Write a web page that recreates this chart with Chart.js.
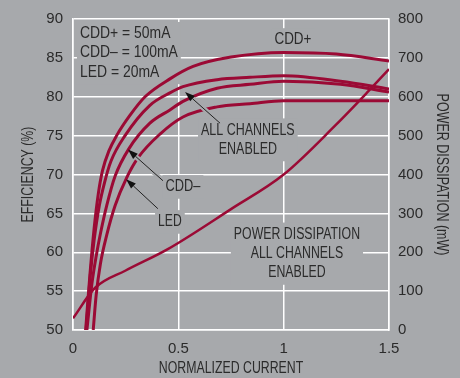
<!DOCTYPE html>
<html>
<head>
<meta charset="utf-8">
<script src="https://cdn.jsdelivr.net/npm/chart.js@4"></script>
<style>
  html,body{margin:0;padding:0;background:#a7a9ac;}
  #wrap{width:460px;height:378px;}
</style>
</head>
<body>
<div id="wrap"><canvas id="c" width="460" height="378"></canvas></div>
<script>
// values: [normalized current, efficiency %] / [current, mW]
const cddPlus = [[0.06,50],[0.08,57],[0.1,63],[0.12,67.5],[0.14,70.5],[0.17,73],[0.207,75],[0.27,77.6],[0.342,80],[0.46,82.3],[0.57,83.9],[0.75,85.1],[1.0,85.7],[1.25,85.5],[1.5,84.6]];
const allChannels = [[0.062,50],[0.082,57],[0.1,61.5],[0.125,66],[0.15,69],[0.18,71.7],[0.247,75],[0.365,78.9],[0.46,80.5],[0.522,81.3],[0.684,82.2],[0.84,82.5],[1.0,82.7],[1.27,82.0],[1.5,81.0]];
const cddMinus = [[0.066,50],[0.09,56],[0.11,59.5],[0.131,62.5],[0.16,66],[0.2,69.8],[0.265,73.3],[0.365,76.6],[0.46,78.3],[0.522,79.4],[0.684,81.1],[0.84,81.6],[1.0,82.0],[1.27,81.6],[1.5,80.6]];
const led = [[0.096,50],[0.11,54.5],[0.13,58.5],[0.16,62.2],[0.2,66],[0.255,69.6],[0.31,72.2],[0.413,75.2],[0.522,77.4],[0.684,78.7],[0.84,79.1],[1.0,79.5],[1.27,79.5],[1.5,79.5]];
const powerDiss = [[0,30],[0.104,108],[0.25,153],[0.45,208],[0.75,311],[1.0,400],[1.25,529],[1.4,613],[1.5,671]];

const xTicks = [0, 0.5, 1, 1.5];
const effRange = [50, 90];
const powRange = [0, 800];

const condLabel = ["CDD+ = 50mA", "CDD\u2013 = 100mA", "LED = 20mA"];
const txtCddPlus = ["CDD+"];
const txtAllCh = ["ALL CHANNELS", "ENABLED"];
const txtCddMinus = ["CDD\u2013"];
const txtLed = ["LED"];
const txtPower = ["POWER DISSIPATION", "ALL CHANNELS", "ENABLED"];

const BG = "#a7a9ac";
const RED = "#9b0a35";
const INK = "#2b2b2b";
const FONT = "'Liberation Sans', Arial, sans-serif";

const pts = (arr)=> arr.map(p=>({x:p[0], y:p[1]}));

// annotations placed in data coordinates (x, efficiency); sx = horizontal squeeze
const notes = [
  {lines: condLabel,   x:0.033, y:88.1, align:"left",   sx:0.87},
  {lines: txtCddPlus,  x:1.044, y:87.3, align:"center", sx:0.84},
  {lines: txtAllCh,    x:0.83,  y:75.7, align:"center", sx:0.78},
  {lines: txtCddMinus, x:0.522, y:68.4, align:"center", sx:0.8},
  {lines: txtLed,      x:0.46,  y:63.9, align:"center", sx:0.76},
  {lines: txtPower,    x:1.063, y:62.3, align:"center", sx:0.77},
];
const arrows = [
  {from:[0.698,76.6], to:[0.532,80.6]},
  {from:[0.427,69.2], to:[0.261,73.2]},
  {from:[0.403,65.6], to:[0.252,69.4]},
];

const LH = 19.3, FS = 16;

function noteBox(ctx, n, xs, ys){
  ctx.font = `${FS}px ${FONT}`;
  const cx = xs.getPixelForValue(n.x), cy = ys.getPixelForValue(n.y);
  const w = Math.max(...n.lines.map(l=>ctx.measureText(l).width)) * n.sx;
  const left = n.align==="left" ? cx : cx - w/2;
  return {cx, cy, w, left, top: cy - FS*0.55, bottom: cy + (n.lines.length-1)*LH + FS*0.55};
}

function squeezed(ctx, text, x, y, sx, rot){
  ctx.save();
  ctx.translate(x, y);
  if (rot) ctx.rotate(rot);
  ctx.scale(sx, 1);
  ctx.fillText(text, 0, 0);
  ctx.restore();
}

const annot = {
  id: "annot",
  beforeDatasetsDraw(chart){
    const {ctx, scales:{x, y}} = chart;
    ctx.save();
    ctx.fillStyle = BG;
    notes.forEach(n=>{
      const b = noteBox(ctx, n, x, y);
      ctx.fillRect(b.left-3, b.top-3, b.w+6, b.bottom-b.top+6);
    });
    ctx.restore();
  },
  afterDatasetsDraw(chart){
    const {ctx, scales:{x, y}} = chart;
    ctx.save();
    // arrows, with a grey halo that cuts the curves they cross
    arrows.forEach(a=>{
      const x1 = x.getPixelForValue(a.from[0]), y1 = y.getPixelForValue(a.from[1]);
      const x2 = x.getPixelForValue(a.to[0]),   y2 = y.getPixelForValue(a.to[1]);
      const ang = Math.atan2(y2-y1, x2-x1);
      const hl = 10, hw = 3.5;
      const bx = x2 - hl*Math.cos(ang), by = y2 - hl*Math.sin(ang);
      ctx.strokeStyle = BG; ctx.lineWidth = 5;
      ctx.beginPath(); ctx.moveTo(x1,y1); ctx.lineTo(bx,by); ctx.stroke();
      ctx.strokeStyle = "#222"; ctx.lineWidth = 1;
      ctx.beginPath(); ctx.moveTo(x1,y1); ctx.lineTo(bx,by); ctx.stroke();
      ctx.fillStyle = "#111";
      ctx.beginPath();
      ctx.moveTo(x2,y2);
      ctx.lineTo(bx + hw*Math.sin(ang), by - hw*Math.cos(ang));
      ctx.lineTo(bx - hw*Math.sin(ang), by + hw*Math.cos(ang));
      ctx.closePath(); ctx.fill();
    });
    ctx.fillStyle = INK;
    ctx.textBaseline = "middle";
    notes.forEach(n=>{
      const b = noteBox(ctx, n, x, y);
      ctx.textAlign = n.align;
      n.lines.forEach((l,i)=> squeezed(ctx, l, b.cx, b.cy + i*LH, n.sx));
    });
    ctx.restore();
  },
  afterDraw(chart){
    const {ctx, chartArea:ca} = chart;
    ctx.save();
    ctx.fillStyle = INK;
    ctx.font = `${FS}px ${FONT}`;
    ctx.textAlign = "center"; ctx.textBaseline = "middle";
    const my = (ca.top+ca.bottom)/2;
    squeezed(ctx, "NORMALIZED CURRENT", (ca.left+ca.right)/2, 369, 0.77);
    squeezed(ctx, "EFFICIENCY (%)", 29, my, 0.77, -Math.PI/2);
    squeezed(ctx, "POWER DISSIPATION (mW)", 441, my, 0.78, Math.PI/2);
    ctx.restore();
  }
};

const line = (data, axis, w)=>({
  data: pts(data), yAxisID: axis, borderColor: RED, borderWidth: w,
  pointRadius: 0, fill: false, cubicInterpolationMode: "monotone"
});

Chart.defaults.font.family = FONT;
Chart.defaults.font.size = 15;
Chart.defaults.color = INK;

new Chart(document.getElementById("c"), {
  type: "line",
  data: {
    datasets: [
      line(powerDiss, "y2", 2.5),
      line(led, "y", 3),
      line(cddMinus, "y", 3),
      line(allChannels, "y", 3),
      line(cddPlus, "y", 3),
    ]
  },
  options: {
    responsive: false,
    animation: false,
    devicePixelRatio: 1,
    layout: { padding: { top: 14 } },
    plugins: { legend: { display: false }, tooltip: { enabled: false } },
    scales: {
      x: {
        type: "linear", min: xTicks[0], max: xTicks[xTicks.length-1],
        afterBuildTicks: (s)=>{ s.ticks = xTicks.map(v=>({value:v})); },
        afterFit: (s)=>{ s.height = 48; },
        grid: { color: "#ffffff", lineWidth: 1.5, drawTicks: false },
        border: { color: "#ffffff", width: 1.5 },
        ticks: { padding: 10, maxRotation: 0, callback: (v)=> String(v) }
      },
      y: {
        position: "left", min: effRange[0], max: effRange[1],
        afterFit: (s)=>{ s.width = 73; },
        grid: { color: "#ffffff", lineWidth: 1.5, drawTicks: false },
        border: { color: "#ffffff", width: 1.5 },
        ticks: { stepSize: 5, padding: 10 }
      },
      y2: {
        position: "right", min: powRange[0], max: powRange[1],
        afterFit: (s)=>{ s.width = 71; },
        grid: { display: false, drawTicks: false },
        border: { color: "#ffffff", width: 1.5 },
        ticks: { stepSize: 100, padding: 9 }
      }
    }
  },
  plugins: [annot]
});
</script>
</body>
</html>
